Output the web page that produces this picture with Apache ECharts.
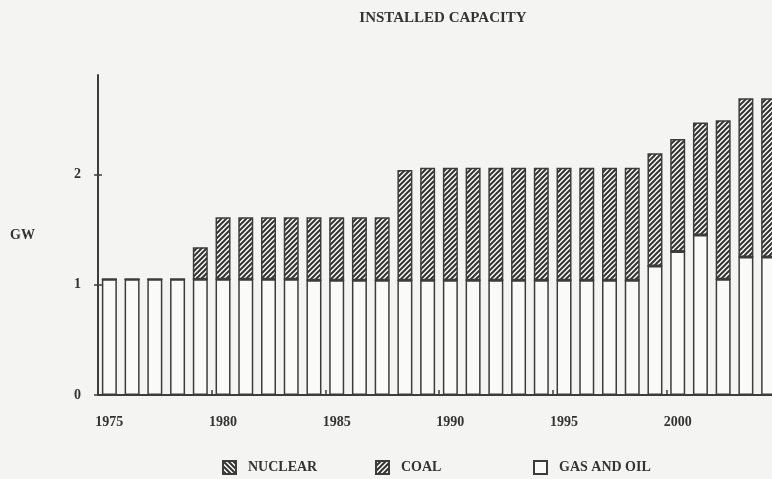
<!DOCTYPE html>
<html>
<head>
<meta charset="utf-8">
<script src="https://cdn.jsdelivr.net/npm/echarts@6/dist/echarts.min.js"></script>
<style>html,body{margin:0;padding:0;background:#f4f5f3;}#c{width:772px;height:479px;}</style>
</head>
<body>
<div id="c"></div>
<script>
const years = ['1975','1976','1977','1978','1979','1980','1981','1982','1983','1984','1985','1986','1987','1988','1989','1990','1991','1992','1993','1994','1995','1996','1997','1998','1999','2000','2001','2002','2003','2004'];
const gasAndOil = [1.05,1.05,1.05,1.05,1.05,1.05,1.05,1.05,1.05,1.04,1.04,1.04,1.04,1.04,1.04,1.04,1.04,1.04,1.04,1.04,1.04,1.04,1.04,1.04,1.17,1.30,1.45,1.05,1.25,1.25];
const coal = [0,0,0,0,0.29,0.56,0.56,0.56,0.56,0.57,0.57,0.57,0.57,1.00,1.02,1.02,1.02,1.02,1.02,1.02,1.02,1.02,1.02,1.02,1.02,1.02,1.02,1.44,1.44,1.44];
const nuclear = [0,0,0,0,0,0,0,0,0,0,0,0,0,0,0,0,0,0,0,0,0,0,0,0,0,0,0,0,0,0];
const yTicks = [0,1,2];

function hatch(forward){
  const s = 5;
  const c = document.createElement('canvas');
  c.width = s; c.height = s;
  const g = c.getContext('2d');
  g.fillStyle = '#fafaf8'; g.fillRect(0,0,s,s);
  g.strokeStyle = '#333'; g.lineWidth = 2;
  g.beginPath();
  if (forward){
    g.moveTo(-s, s); g.lineTo(s, -s);
    g.moveTo(0, s); g.lineTo(s, 0);
    g.moveTo(0, 2*s); g.lineTo(2*s, 0);
  } else {
    g.moveTo(-s, 0); g.lineTo(s, 2*s);
    g.moveTo(0, 0); g.lineTo(s, s);
    g.moveTo(0, -s); g.lineTo(2*s, s);
  }
  g.stroke();
  return c;
}

const ink = '#3c3c3c';
const serif = 'Liberation Serif';
const chart = echarts.init(document.getElementById('c'), null, {renderer:'canvas'});
const legendBase = {
  orient:'horizontal', top:460, padding:0, icon:'rect', itemWidth:13, itemHeight:13,
  textStyle:{fontFamily:serif, fontWeight:'bold', fontSize:14, color:'#333', padding:[0,0,0,7]},
  selectedMode:false
};
const gridRect = {left:98, right:-8, top:75, bottom:84, outerBoundsMode:'none', containLabel:false};
chart.setOption({
  backgroundColor:'#f4f5f3',
  animation:false,
  title:{text:'INSTALLED CAPACITY', left:438, top:6, textAlign:'center',
    textStyle:{fontFamily:serif, fontWeight:'bold', fontSize:15, color:'#333'}},
  legend:[
    Object.assign({}, legendBase, {left:222, data:['NUCLEAR']}),
    Object.assign({}, legendBase, {left:375, data:['COAL']}),
    Object.assign({}, legendBase, {left:533, data:['GAS AND OIL']})
  ],
  grid:[Object.assign({}, gridRect), Object.assign({}, gridRect)],
  graphic:[{type:'text', left:10, top:228, style:{text:'GW', fontFamily:serif, fontWeight:'bold', fontSize:14, fill:'#333'}}],
  xAxis:[
    {type:'category', gridIndex:0, data:years, boundaryGap:true,
     axisLine:{lineStyle:{color:ink, width:2}},
     axisTick:{interval:4, length:3, lineStyle:{color:ink, width:1.5}},
     axisLabel:{interval:4, margin:20, fontFamily:serif, fontWeight:'bold', fontSize:14, color:'#333'}},
    {type:'category', gridIndex:1, show:true, data:years, boundaryGap:true, position:'bottom',
     axisLine:{show:false}, axisLabel:{show:false},
     axisTick:{show:true, interval:4, inside:true, length:5, lineStyle:{color:ink, width:1.5}}}
  ],
  yAxis:[
    {type:'value', gridIndex:0, min:0, max:2.9, interval:1,
     axisLine:{show:true, lineStyle:{color:ink, width:2}},
     axisTick:{show:true, length:4, customValues:yTicks, lineStyle:{color:ink, width:1.5}},
     axisLabel:{customValues:yTicks, margin:17, fontFamily:serif, fontWeight:'bold', fontSize:14, color:'#333'},
     splitLine:{show:false}},
    {type:'value', gridIndex:1, show:true, min:0, max:2.9, interval:1, position:'left',
     axisLine:{show:false}, axisLabel:{show:false}, splitLine:{show:false},
     axisTick:{show:true, inside:true, length:4, customValues:yTicks, lineStyle:{color:ink, width:1.5}}}
  ],
  series:[
    {name:'GAS AND OIL', type:'bar', stack:'cap', data:gasAndOil, barWidth:15,
     itemStyle:{color:'#fafaf8', borderColor:ink, borderWidth:1.5}},
    {name:'NUCLEAR', type:'bar', stack:'cap', data:nuclear, barWidth:15,
     itemStyle:{color:{image:hatch(false), repeat:'repeat'}, borderColor:ink, borderWidth:1.5}},
    {name:'COAL', type:'bar', stack:'cap', data:coal, barWidth:15,
     itemStyle:{color:{image:hatch(true), repeat:'repeat'}, borderColor:ink, borderWidth:1.5}}
  ]
});
</script>
</body>
</html>
